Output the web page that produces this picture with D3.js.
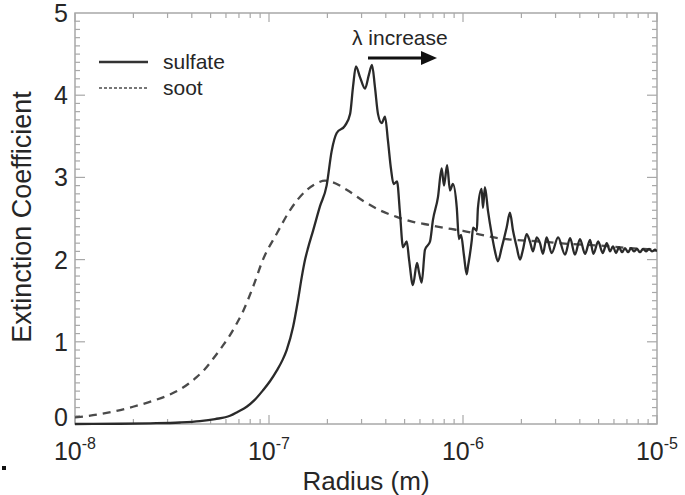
<!DOCTYPE html>
<html>
<head>
<meta charset="utf-8">
<script src="https://cdn.jsdelivr.net/npm/d3@7"></script>
<style>
html,body{margin:0;padding:0;background:#fff;}
svg{display:block;font-family:"Liberation Sans",Arial,Helvetica,sans-serif;}
</style>
</head>
<body>
<svg id="chart" width="685" height="495"></svg>
<script>
// ---- data (log10 of radius in metres, extinction coefficient) ----
const sulfateLogR = [-8.0,-7.768,-7.613,-7.459,-7.356,-7.278,-7.201,-7.160,-7.115,-7.075,-7.031,-6.995,-6.960,-6.930,-6.909,-6.876,-6.851,-6.831,-6.814,-6.799,-6.773,-6.737,-6.703,-6.677,-6.651,-6.608,-6.582,-6.567,-6.552,-6.531,-6.505,-6.485,-6.469,-6.454,-6.438,-6.419,-6.402,-6.387,-6.371,-6.358,-6.340,-6.325,-6.309,-6.290,-6.278,-6.258,-6.237,-6.227,-6.213,-6.196,-6.170,-6.155,-6.129,-6.110,-6.098,-6.082,-6.067,-6.052,-6.032,-6.021,-6.010,-5.995,-5.981,-5.974,-5.955,-5.948,-5.929,-5.923,-5.904,-5.897,-5.887,-5.871,-5.852,-5.835,-5.820,-5.801,-5.775,-5.758,-5.742,-5.723,-5.706,-5.691,-5.672,-5.655,-5.639,-5.620,-5.603,-5.588,-5.569,-5.543,-5.510,-5.474,-5.448,-5.423,-5.397,-5.371,-5.345,-5.328,-5.303,-5.280,-5.259,-5.242,-5.227,-5.211,-5.196,-5.180,-5.165,-5.149,-5.134,-5.119,-5.103,-5.088,-5.072,-5.057,-5.041,-5.026,-5.010,-5.0];
const sulfateValues = [0.0,0.003,0.008,0.018,0.035,0.06,0.10,0.15,0.21,0.29,0.41,0.52,0.65,0.78,0.9,1.18,1.5,1.79,2.0,2.14,2.35,2.65,2.9,3.32,3.54,3.63,3.77,4.1,4.35,4.22,4.08,4.25,4.37,4.1,3.77,3.66,3.74,3.45,3.1,2.92,2.95,2.57,2.15,2.22,2.0,1.69,1.96,1.85,1.72,2.12,2.22,2.48,2.76,3.11,2.9,3.15,2.84,2.92,2.63,2.25,2.3,2.05,1.82,1.92,2.23,2.39,2.35,2.63,2.86,2.63,2.88,2.59,2.31,2.1,1.98,2.14,2.39,2.57,2.35,2.15,2.0,2.12,2.31,2.22,2.1,2.27,2.2,2.07,2.27,2.08,2.27,2.06,2.26,2.06,2.25,2.07,2.24,2.07,2.22,2.08,2.2,2.1,2.16,2.08,2.15,2.09,2.14,2.09,2.14,2.1,2.13,2.09,2.13,2.1,2.13,2.1,2.12,2.1];

const sootLogR = [-8.0,-7.871,-7.786,-7.701,-7.600,-7.5,-7.459,-7.415,-7.373,-7.330,-7.289,-7.245,-7.201,-7.167,-7.134,-7.082,-7.031,-6.959,-6.892,-6.804,-6.753,-6.711,-6.670,-6.600,-6.505,-6.428,-6.342,-6.258,-6.170,-6.084,-6.0,-5.904,-5.820,-5.732,-5.603,-5.448,-5.294,-5.139,-5.0];
const sootValues = [0.08,0.12,0.16,0.21,0.28,0.37,0.42,0.49,0.57,0.67,0.79,0.93,1.08,1.22,1.37,1.67,2.0,2.32,2.6,2.85,2.93,2.96,2.94,2.85,2.70,2.6,2.52,2.46,2.42,2.38,2.35,2.3,2.26,2.24,2.22,2.19,2.17,2.14,2.12];

const xMajorExponents = [-8, -7, -6, -5];
const yMajorTicks = [0, 1, 2, 3, 4, 5];
const legendLabels = ["sulfate", "soot"];
const annotationText = "\u03bb increase";
const xTitle = "Radius (m)";
const yTitle = "Extinction Coefficient";

// ---- layout ----
const L = 75, R = 657, T = 13, B = 424;
const svg = d3.select("#chart");
const x = d3.scaleLog().domain([1e-8, 1e-5]).range([L, R]);
const y = d3.scaleLinear().domain([0, 5]).range([B, T]);
const frameColor = "#a8a8a8";
const textColor = "#262626";

// frame
svg.append("rect").attr("x", L).attr("y", T).attr("width", R - L).attr("height", B - T)
  .attr("fill", "none").attr("stroke", frameColor).attr("stroke-width", 1.5);

// x ticks (major + minor), inward on bottom and top
const xMinor = [];
xMajorExponents.slice(0, -1).forEach(e => { for (let k = 2; k <= 9; k++) xMinor.push(k * Math.pow(10, e)); });
const xMajor = xMajorExponents.map(e => Math.pow(10, e));
const tg = svg.append("g").attr("stroke", frameColor).attr("stroke-width", 1.2);
xMajor.forEach(v => {
  tg.append("line").attr("x1", x(v)).attr("x2", x(v)).attr("y1", B).attr("y2", B - 9);
  tg.append("line").attr("x1", x(v)).attr("x2", x(v)).attr("y1", T).attr("y2", T + 9);
});
xMinor.forEach(v => {
  tg.append("line").attr("x1", x(v)).attr("x2", x(v)).attr("y1", B).attr("y2", B - 5);
  tg.append("line").attr("x1", x(v)).attr("x2", x(v)).attr("y1", T).attr("y2", T + 5);
});
// y ticks
d3.range(0, 50).forEach(i => {
  const v = i / 10;
  const major = i % 10 === 0;
  const len = major ? 10 : 5;
  tg.append("line").attr("x1", L).attr("x2", L + len).attr("y1", y(v)).attr("y2", y(v));
  tg.append("line").attr("x1", R).attr("x2", R - len).attr("y1", y(v)).attr("y2", y(v));
});

// y tick labels
svg.append("g").selectAll("text").data(yMajorTicks).join("text")
  .attr("x", 68).attr("y", d => Math.min(y(d), B - 7))
  .attr("dy", "0.36em").attr("text-anchor", "end")
  .attr("font-size", 25).attr("fill", textColor).text(d => d);

// x tick labels with superscript exponents
const xl = svg.append("g").selectAll("text").data(xMajorExponents).join("text")
  .attr("x", d => x(Math.pow(10, d))).attr("y", 460)
  .attr("text-anchor", "middle").attr("font-size", 25).attr("fill", textColor);
xl.append("tspan").text("10");
xl.append("tspan").attr("font-size", 16).attr("dy", -11).text(d => d);

// axis titles
svg.append("text").attr("x", (L + R) / 2).attr("y", 490).attr("text-anchor", "middle")
  .attr("font-size", 26).attr("fill", textColor).text(xTitle);
svg.append("text").attr("transform", "translate(31," + 217 + ") rotate(-90)")
  .attr("text-anchor", "middle").attr("font-size", 27).attr("fill", textColor).text(yTitle);

// lines
const clip = svg.append("clipPath").attr("id", "clip").append("rect")
  .attr("x", L).attr("y", T - 2).attr("width", R - L).attr("height", B - T + 4);
const line = d3.line().x(d => x(Math.pow(10, d[0]))).y(d => y(d[1])).curve(d3.curveMonotoneX);
const sootData = sootLogR.map((r, i) => [r, sootValues[i]]);
const sulfateData = sulfateLogR.map((r, i) => [r, sulfateValues[i]]);
const lg = svg.append("g").attr("clip-path", "url(#clip)");
lg.append("path").attr("d", line(sootData)).attr("fill", "none")
  .attr("stroke", "#4a4a4a").attr("stroke-width", 2.3).attr("stroke-dasharray", "8,6");
lg.append("path").attr("d", line(sulfateData)).attr("fill", "none")
  .attr("stroke", "#2a2a2a").attr("stroke-width", 2.3).attr("stroke-linejoin", "round");

// legend
const leg = svg.append("g");
leg.append("line").attr("x1", 99).attr("x2", 148).attr("y1", 62).attr("y2", 62)
  .attr("stroke", "#333").attr("stroke-width", 2.4);
leg.append("line").attr("x1", 99).attr("x2", 148).attr("y1", 88).attr("y2", 88)
  .attr("stroke", "#777").attr("stroke-width", 2).attr("stroke-dasharray", "3,2");
leg.selectAll("text").data(legendLabels).join("text")
  .attr("x", 163).attr("y", (d, i) => 69 + i * 26)
  .attr("font-size", 21).attr("fill", textColor).text(d => d);

// annotation arrow
svg.append("text").attr("x", 352).attr("y", 45).attr("font-size", 21).attr("fill", textColor).text(annotationText);
svg.append("line").attr("x1", 368).attr("x2", 424).attr("y1", 58).attr("y2", 58)
  .attr("stroke", "#111").attr("stroke-width", 3);
svg.append("path").attr("d", "M421,51 L437,58 L421,65 Z").attr("fill", "#111");

// stray dot
svg.append("rect").attr("x", 2).attr("y", 466).attr("width", 4).attr("height", 4).attr("fill", "#111");
</script>
</body>
</html>
